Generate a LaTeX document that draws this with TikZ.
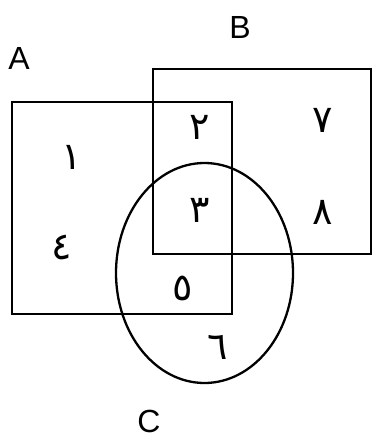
\documentclass[tikz,border=0pt]{standalone}
\usepackage{fontspec}
\usetikzlibrary{shapes.geometric}
\setmainfont{Liberation Sans}
\newfontfamily\arabicfont[Script=Arabic]{DejaVu Sans}
\begin{document}
\begin{tikzpicture}[x=1pt,y=-1pt,
  setbox/.style={draw=black,line width=2.6pt,rectangle,inner sep=0pt},
  setoval/.style={draw=black,line width=2.3pt,ellipse,inner sep=0pt},
  setname/.style={font=\fontsize{32}{34}\selectfont,inner sep=0pt},
  digit/.style={font=\arabicfont\fontsize{38}{40}\selectfont,inner sep=0pt}]
\useasboundingbox (0,0) rectangle (373,438);
\node[setbox,minimum width=220pt,minimum height=212pt] (A) at (122,208) {};
\node[setbox,minimum width=218pt,minimum height=185pt] (B) at (262,161.5) {};
\node[setoval,minimum width=177pt,minimum height=220pt] (C) at (204.5,273) {};
\node[setname] (la) at (19,58) {A};
\node[setname] (lb) at (240,27) {B};
\node[setname] (lc) at (149,421) {C};
\node[digit] (d1) at (72,157) {١};
\node[digit] (d2) at (200,127) {٢};
\node[digit] (d3) at (200,210) {٣};
\node[digit] (d4) at (62,248) {٤};
\node[digit] (d5) at (183,288) {٥};
\node[digit] (d6) at (218,347) {٦};
\node[digit] (d7) at (323,120) {٧};
\node[digit] (d8) at (323,212) {٨};
\end{tikzpicture}
\end{document}
